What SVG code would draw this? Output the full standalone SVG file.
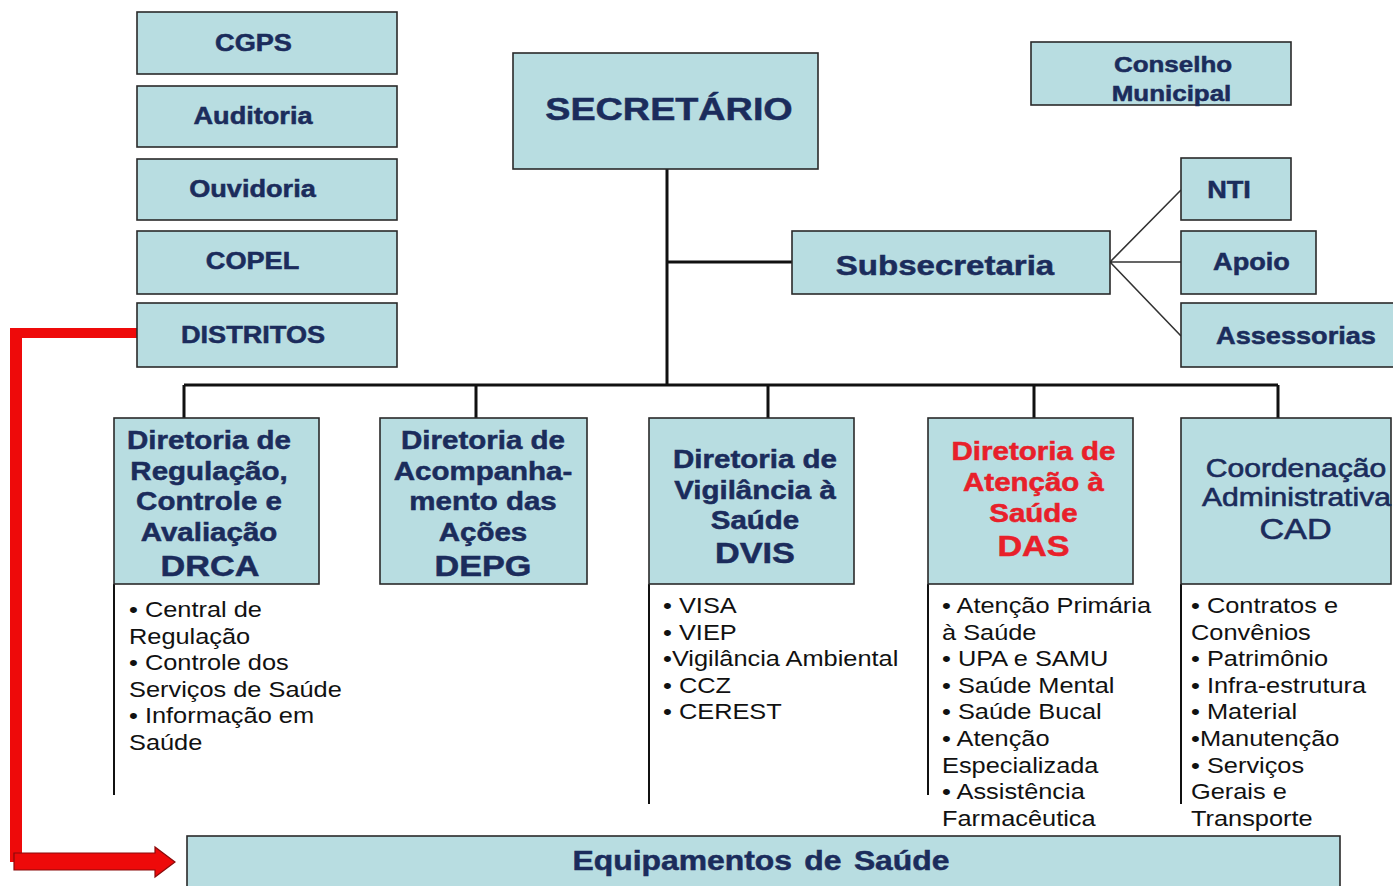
<svg xmlns="http://www.w3.org/2000/svg" width="1393" height="886" viewBox="0 0 1393 886">
<style>
.box{fill:#b8dde1;stroke:#2a2a2a;stroke-width:1.6}
.lbl{font-family:"Liberation Sans",Arial,sans-serif;font-weight:bold;fill:#1b2c5c;stroke:#1b2c5c;stroke-width:0.5;text-anchor:middle}
.reg{font-weight:normal;stroke-width:0.6}
.red{fill:#e8202a;stroke:#e8202a}
.lst{font-family:"Liberation Sans",Arial,sans-serif;font-size:21.5px;fill:#111}
.ln{stroke:#111;stroke-width:3;fill:none}
.thin{stroke:#333;stroke-width:1.6;fill:none}
.side{stroke:#111;stroke-width:2;fill:none}
</style>
<rect width="1393" height="886" fill="#ffffff"/>

<g id="connectors">
<path class="ln" d="M667,169 V385 M667,262 H792 M184,385 H1278 M184,385 V418 M476,385 V418 M768,385 V418 M1034,385 V418 M1278,385 V418"/>
<path class="thin" d="M1110,262 L1181,190 M1110,262 H1181 M1110,262 L1181,336"/>
<path class="side" d="M114,584 V795 M649,584 V804 M928,584 V795 M1181,584 V804"/>
<path d="M137,333 H16" fill="none" stroke="#ee0a0a" stroke-width="10"/>
<path d="M16,328 V862" fill="none" stroke="#ee0a0a" stroke-width="12"/>
<polygon points="14,853 155,853 155,847 175,862 155,877 155,870 14,870" fill="#ee0a0a" stroke="#8a0a0a" stroke-width="1.2"/>
</g>

<g id="cgps"><rect class="box" x="137" y="12" width="260" height="62"/><text class="lbl" font-size="23" transform="translate(253.5 51) scale(1.18 1)">CGPS</text></g>
<g id="auditoria"><rect class="box" x="137" y="86" width="260" height="61"/><text class="lbl" font-size="23" transform="translate(253 124) scale(1.18 1)">Auditoria</text></g>
<g id="ouvidoria"><rect class="box" x="137" y="159" width="260" height="61"/><text class="lbl" font-size="23" transform="translate(252.5 197) scale(1.18 1)">Ouvidoria</text></g>
<g id="copel"><rect class="box" x="137" y="231" width="260" height="63"/><text class="lbl" font-size="23" transform="translate(252.5 269) scale(1.18 1)">COPEL</text></g>
<g id="distritos"><rect class="box" x="137" y="303" width="260" height="64"/><text class="lbl" font-size="23" transform="translate(253 343) scale(1.18 1)">DISTRITOS</text></g>

<g id="secretario"><rect class="box" x="513" y="53" width="305" height="116"/><text class="lbl" font-size="32" stroke-width="1" transform="translate(669 120) scale(1.18 1)">SECRETÁRIO</text></g>

<g id="conselho"><rect class="box" x="1031" y="42" width="260" height="63"/>
<text class="lbl" font-size="22" transform="translate(1173 72) scale(1.18 1)">Conselho</text>
<text class="lbl" font-size="22" transform="translate(1171.5 101) scale(1.18 1)">Municipal</text></g>

<g id="subsecretaria"><rect class="box" x="792" y="231" width="318" height="63"/><text class="lbl" font-size="28" stroke-width="0.7" transform="translate(945 275) scale(1.18 1)">Subsecretaria</text></g>
<g id="nti"><rect class="box" x="1181" y="158" width="110" height="62"/><text class="lbl" font-size="23" transform="translate(1229 198) scale(1.18 1)">NTI</text></g>
<g id="apoio"><rect class="box" x="1181" y="231" width="135" height="63"/><text class="lbl" font-size="23" transform="translate(1251.5 270) scale(1.18 1)">Apoio</text></g>
<g id="assessorias"><rect class="box" x="1181" y="303" width="220" height="64"/><text class="lbl" font-size="23" transform="translate(1296 344) scale(1.18 1)">Assessorias</text></g>

<g id="drca"><rect class="box" x="114" y="418" width="205" height="166"/>
<text class="lbl" font-size="25" transform="translate(209 449) scale(1.18 1)">Diretoria de</text>
<text class="lbl" font-size="25" transform="translate(209 480) scale(1.18 1)">Regulação,</text>
<text class="lbl" font-size="25" transform="translate(209 510) scale(1.18 1)">Controle e</text>
<text class="lbl" font-size="25" transform="translate(209 541) scale(1.18 1)">Avaliação</text>
<text class="lbl" font-size="29" transform="translate(210 576) scale(1.18 1)">DRCA</text>
<text class="lst" transform="translate(129 617) scale(1.18 1)"><tspan x="0">• Central de</tspan><tspan x="0" dy="26.6">Regulação</tspan><tspan x="0" dy="26.6">• Controle dos</tspan><tspan x="0" dy="26.6">Serviços de Saúde</tspan><tspan x="0" dy="26.6">• Informação em</tspan><tspan x="0" dy="26.6">Saúde</tspan></text>
</g>

<g id="depg"><rect class="box" x="380" y="418" width="207" height="166"/>
<text class="lbl" font-size="25" transform="translate(483 449) scale(1.18 1)">Diretoria de</text>
<text class="lbl" font-size="25" transform="translate(483 480) scale(1.18 1)">Acompanha-</text>
<text class="lbl" font-size="25" transform="translate(483 510) scale(1.18 1)">mento das</text>
<text class="lbl" font-size="25" transform="translate(483 541) scale(1.18 1)">Ações</text>
<text class="lbl" font-size="29" transform="translate(483 576) scale(1.18 1)">DEPG</text>
</g>

<g id="dvis"><rect class="box" x="649" y="418" width="205" height="166"/>
<text class="lbl" font-size="25" transform="translate(755 468) scale(1.18 1)">Diretoria de</text>
<text class="lbl" font-size="25" transform="translate(755 499) scale(1.18 1)">Vigilância à</text>
<text class="lbl" font-size="25" transform="translate(755 529) scale(1.18 1)">Saúde</text>
<text class="lbl" font-size="29" transform="translate(755 563) scale(1.18 1)">DVIS</text>
<text class="lst" transform="translate(663 613) scale(1.18 1)"><tspan x="0">• VISA</tspan><tspan x="0" dy="26.6">• VIEP</tspan><tspan x="0" dy="26.6">•Vigilância Ambiental</tspan><tspan x="0" dy="26.6">• CCZ</tspan><tspan x="0" dy="26.6">• CEREST</tspan></text>
</g>

<g id="das"><rect class="box" x="928" y="418" width="205" height="166"/>
<text class="lbl red" font-size="25" transform="translate(1033.5 460) scale(1.18 1)">Diretoria de</text>
<text class="lbl red" font-size="25" transform="translate(1033.5 491) scale(1.18 1)">Atenção à</text>
<text class="lbl red" font-size="25" transform="translate(1033.5 522) scale(1.18 1)">Saúde</text>
<text class="lbl red" font-size="29" transform="translate(1033.5 556) scale(1.18 1)">DAS</text>
<text class="lst" transform="translate(942 613) scale(1.18 1)"><tspan x="0">• Atenção Primária</tspan><tspan x="0" dy="26.6">à Saúde</tspan><tspan x="0" dy="26.6">• UPA e SAMU</tspan><tspan x="0" dy="26.6">• Saúde Mental</tspan><tspan x="0" dy="26.6">• Saúde Bucal</tspan><tspan x="0" dy="26.6">• Atenção</tspan><tspan x="0" dy="26.6">Especializada</tspan><tspan x="0" dy="26.6">• Assistência</tspan><tspan x="0" dy="26.6">Farmacêutica</tspan></text>
</g>

<g id="cad"><rect class="box" x="1181" y="418" width="210" height="166"/>
<text class="lbl reg" font-size="25.5" transform="translate(1296 477) scale(1.18 1)">Coordenação</text>
<text class="lbl reg" font-size="25.5" transform="translate(1296.5 506) scale(1.18 1)">Administrativa</text>
<text class="lbl reg" font-size="29" transform="translate(1295.5 539) scale(1.18 1)">CAD</text>
<text class="lst" transform="translate(1191 613) scale(1.18 1)"><tspan x="0">• Contratos e</tspan><tspan x="0" dy="26.6">Convênios</tspan><tspan x="0" dy="26.6">• Patrimônio</tspan><tspan x="0" dy="26.6">• Infra-estrutura</tspan><tspan x="0" dy="26.6">• Material</tspan><tspan x="0" dy="26.6">•Manutenção</tspan><tspan x="0" dy="26.6">• Serviços</tspan><tspan x="0" dy="26.6">Gerais e</tspan><tspan x="0" dy="26.6">Transporte</tspan></text>
</g>

<g id="equipamentos"><rect class="box" x="187" y="836" width="1153" height="60"/>
<text class="lbl" font-size="27" word-spacing="3" transform="translate(761 870) scale(1.18 1)">Equipamentos de Saúde</text></g>
</svg>
